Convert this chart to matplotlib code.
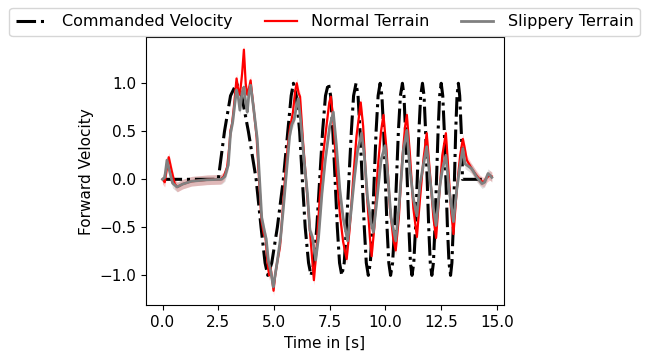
import numpy as np
import matplotlib
matplotlib.use("Agg")
import matplotlib.pyplot as plt

# commanded forward velocity
cmd_t = [0.0, 2.5, 2.78, 3.05, 3.32, 3.55, 3.85, 4.2, 4.42, 4.6, 4.72,
         4.9, 5.15, 5.42, 5.62, 5.77, 5.87, 6.0, 6.15, 6.27, 6.4, 6.55, 6.66,
         6.79, 6.92, 7.05, 7.18, 7.31, 7.44, 7.54, 7.64, 7.74, 7.84, 7.94, 8.04,
         8.15, 8.25, 8.36, 8.47, 8.57, 8.68, 8.77, 8.86, 8.955, 9.05, 9.14, 9.23,
         9.32, 9.41, 9.495, 9.58, 9.67, 9.76, 9.84, 9.92, 9.995, 10.07, 10.15, 10.23,
         10.32, 10.41, 10.495, 10.58, 10.67, 10.76, 10.83, 10.9, 10.975, 11.05, 11.12, 11.19,
         11.27, 11.35, 11.425, 11.5, 11.58, 11.66, 11.73, 11.8, 11.87, 11.94, 12.01, 12.08,
         12.15, 12.22, 12.29, 12.36, 12.43, 12.5, 12.57, 12.64, 12.71, 12.78, 12.85, 12.92,
         12.98, 13.04, 13.095, 13.15, 13.21, 13.27, 13.33, 13.4, 13.44, 13.45, 14.42]
cmd_v = [0.0, 0.0, 0.5, 0.87, 1.0, 0.87, 0.5, 0.0, -0.5, -0.87, -1.0,
         -0.87, -0.5, 0.0, 0.5, 0.87, 1.0, 0.87, 0.5, 0.0, -0.5, -0.87, -1.0,
         -0.87, -0.5, 0.0, 0.5, 0.87, 1.0, 0.87, 0.5, 0.0, -0.5, -0.87, -1.0,
         -0.87, -0.5, 0.0, 0.5, 0.87, 1.0, 0.87, 0.5, 0.0, -0.5, -0.87, -1.0,
         -0.87, -0.5, 0.0, 0.5, 0.87, 1.0, 0.87, 0.5, 0.0, -0.5, -0.87, -1.0,
         -0.87, -0.5, 0.0, 0.5, 0.87, 1.0, 0.87, 0.5, 0.0, -0.5, -0.87, -1.0,
         -0.87, -0.5, 0.0, 0.5, 0.87, 1.0, 0.87, 0.5, 0.0, -0.5, -0.87, -1.0,
         -0.87, -0.5, 0.0, 0.5, 0.87, 1.0, 0.87, 0.5, 0.0, -0.5, -0.87, -1.0,
         -0.87, -0.5, 0.0, 0.5, 0.87, 1.0, 0.87, 0.5, 0.3, 0.0, 0.0]

# normal terrain (mean response)
normal_t = [0.0, 0.1, 0.2, 0.28, 0.4, 0.55, 0.67, 0.9, 1.3, 2.0, 2.6, 2.75, 2.9,
            3.0, 3.05, 3.12, 3.2, 3.32, 3.42, 3.47, 3.57, 3.65, 3.73, 3.8, 3.88,
            3.95, 4.08, 4.22, 4.44, 4.55, 4.62, 4.7, 4.78, 4.85, 4.92, 4.98, 5.05,
            5.15, 5.27, 5.38, 5.49, 5.62, 5.72, 5.85, 5.95, 6.02, 6.1, 6.17, 6.3,
            6.47, 6.61, 6.72, 6.79, 6.9, 7.05, 7.2, 7.35, 7.48, 7.55, 7.65, 7.8,
            7.95, 8.1, 8.26, 8.4, 8.55, 8.7, 8.89, 9.0, 9.15, 9.3, 9.38, 9.5,
            9.65, 9.8, 9.91, 10.05, 10.2, 10.35, 10.46, 10.6, 10.75, 10.88, 10.96,
            11.1, 11.25, 11.41, 11.55, 11.7, 11.85, 12.0, 12.15, 12.27, 12.4, 12.55,
            12.71, 12.85, 12.95, 13.05, 13.2, 13.35, 13.47, 13.55, 13.65, 13.87,
            14.02, 14.25, 14.4, 14.55, 14.67, 14.77]
normal_v = [0.0, -0.03, 0.12, 0.23, 0.1, -0.05, -0.08, -0.05, -0.02, -0.005, 0.0, 0.03, 0.13,
            0.35, 0.51, 0.58, 0.75, 1.05, 0.9, 0.88, 1.1, 1.35, 1.0, 0.88, 0.95,
            1.03, 0.75, 0.44, -0.43, -0.58, -0.6, -0.85, -1.0, -0.92, -1.05, -1.16, -1.0,
            -0.85, -0.7, -0.35, 0.0, 0.35, 0.54, 0.7, 0.92, 1.0, 0.9, 0.86, 0.4,
            -0.11, -0.53, -0.85, -1.05, -0.75, -0.2, 0.25, 0.55, 0.8, 0.86, 0.65, 0.1,
            -0.35, -0.65, -0.83, -0.5, 0.0, 0.45, 0.8, 0.55, -0.1, -0.6, -0.8, -0.5,
            0.1, 0.5, 0.67, 0.3, -0.3, -0.62, -0.74, -0.4, 0.2, 0.55, 0.67,
            0.25, -0.3, -0.6, -0.2, 0.2, 0.48, 0.05, -0.4, -0.61, -0.2, 0.25,
            0.48, 0.0, -0.35, -0.57, -0.1, 0.25, 0.42, 0.33, 0.2, 0.11,
            0.06, -0.01, -0.03, 0.02, 0.04, 0.03]

# slippery terrain (mean response)
slip_t = [0.0, 0.1, 0.2, 0.3, 0.45, 0.65, 0.9, 1.3, 2.0, 2.65, 2.8, 2.95, 3.05,
          3.15, 3.25, 3.32, 3.4, 3.47, 3.57, 3.65, 3.73, 3.8, 3.88, 3.95, 4.08,
          4.25, 4.45, 4.58, 4.65, 4.75, 4.85, 4.92, 4.97, 5.05, 5.15, 5.3, 5.42,
          5.55, 5.7, 5.8, 5.9, 6.0, 6.09, 6.2, 6.35, 6.5, 6.61, 6.72, 6.87, 7.0,
          7.15, 7.3, 7.5, 7.66, 7.8, 7.95, 8.1, 8.3, 8.45, 8.6, 8.75, 8.93, 9.05,
          9.2, 9.35, 9.46, 9.6, 9.8, 9.98, 10.1, 10.25, 10.46, 10.6, 10.8, 10.96,
          11.1, 11.25, 11.41, 11.55, 11.7, 11.85, 12.0, 12.15, 12.27, 12.45, 12.55,
          12.71, 12.85, 13.05, 13.2, 13.35, 13.47, 13.57, 13.7, 13.87, 14.1, 14.33,
          14.45, 14.6, 14.7, 14.77]
slip_v = [0.0, 0.02, 0.2, 0.1, -0.04, -0.08, -0.05, -0.02, -0.005, 0.0, 0.03, 0.15, 0.48,
          0.6, 0.8, 0.93, 0.85, 0.72, 0.9, 0.96, 0.8, 0.7, 0.9, 0.98, 0.75,
          0.42, -0.4, -0.55, -0.62, -0.85, -0.95, -1.05, -1.12, -1.0, -0.85, -0.6, -0.3,
          0.05, 0.45, 0.57, 0.62, 0.75, 0.84, 0.6, 0.2, -0.15, -0.53, -0.6, -0.84, -0.6,
          -0.15, 0.2, 0.55, 0.7, 0.35, -0.1, -0.4, -0.64, -0.35, 0.0, 0.3, 0.48, 0.25,
          -0.2, -0.45, -0.55, -0.25, 0.2, 0.35, 0.05, -0.4, -0.64, -0.3, 0.3, 0.51,
          0.1, -0.2, -0.38, -0.05, 0.15, 0.34, 0.0, -0.3, -0.48, -0.05, 0.1,
          0.25, -0.1, -0.44, -0.1, 0.15, 0.32, 0.16, 0.14, 0.11, 0.02, -0.045,
          -0.03, 0.06, 0.04, 0.02]

# spread of the repeated runs (shaded band half width)
normal_spread = 0.05
slip_spread = 0.05

fig = plt.figure(figsize=(6.49, 3.54), dpi=100)
ax = fig.add_axes([0.225, 0.138, 0.551, 0.757])

ax.plot(cmd_t, cmd_v, color="black", linestyle="-.", linewidth=2.2,
        label="Commanded Velocity", zorder=3)

nv = np.array(normal_v)
ax.fill_between(normal_t, nv - normal_spread, nv + normal_spread,
                color="red", alpha=0.2, linewidth=0)
ax.plot(normal_t, normal_v, color="red", linewidth=1.6, label="Normal Terrain", zorder=4)

sv = np.array(slip_v)
ax.fill_between(slip_t, sv - slip_spread, sv + slip_spread,
                color="gray", alpha=0.25, linewidth=0)
ax.plot(slip_t, slip_v, color="gray", linewidth=2, label="Slippery Terrain", zorder=5)

ax.set_xlim(-0.74, 15.3)
ax.set_ylim(-1.31, 1.48)
ax.set_xticks([0, 2.5, 5, 7.5, 10, 12.5, 15])
ax.set_yticks([-1.0, -0.5, 0.0, 0.5, 1.0])
ax.tick_params(labelsize=11)
ax.set_xlabel("Time in [s]", fontsize=11)
ax.set_ylabel("Forward Velocity", fontsize=11)

fig.legend(loc="upper center", bbox_to_anchor=(0.5, 1.0), ncol=3, fontsize=11.5,
           handlelength=2.0, handletextpad=0.9, columnspacing=2.0)

plt.savefig("out.png", dpi=100)
